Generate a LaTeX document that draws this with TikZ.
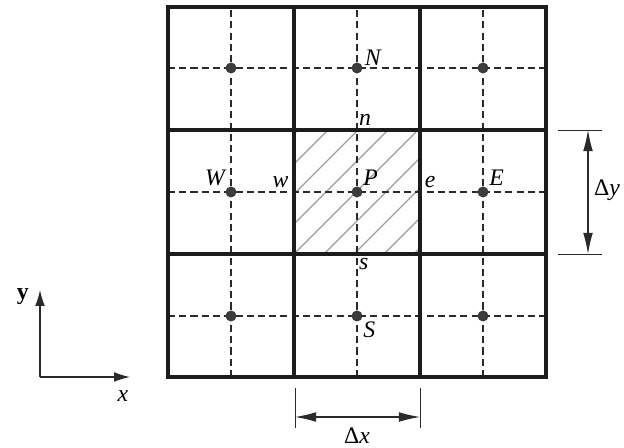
\documentclass[tikz,border=0pt]{standalone}
\usepackage{fontspec}
\setmainfont{Liberation Serif}[ItalicFont={Liberation Serif Italic}, BoldFont={Liberation Serif Bold}]
\usetikzlibrary{arrows.meta,positioning}
\definecolor{wallblack}{HTML}{1C1C1C}
\definecolor{dashgray}{HTML}{2A2A2A}
\definecolor{hatchgray}{HTML}{9C9C9C}
\definecolor{dotgray}{HTML}{3C3C3C}
\newcommand{\labelfont}{\fontsize{13.5}{16}\selectfont}
\tikzset{
  cellwall/.style={draw=wallblack, line width=1.8pt, line cap=rect},
  gridline/.style={draw=dashgray, line width=0.65pt, dash pattern=on 4pt off 2.4pt},
  hatch/.style={draw=hatchgray, line width=0.7pt},
  nodept/.style={circle, fill=dotgray, inner sep=0pt, minimum size=2.2mm},
  ptlabel/.style={inner sep=1pt, font=\labelfont\itshape},
  dimline/.style={draw=dashgray, line width=0.5pt},
  dimarrow/.style={{Latex[length=12pt,width=5.5pt]}-{Latex[length=12pt,width=5.5pt]}, draw=dashgray, line width=0.6pt},
  axisarrow/.style={-{Latex[length=9pt,width=5.5pt]}, draw=dashgray, line width=0.7pt}
}

\begin{document}
\begin{tikzpicture}[x=0.02cm, y=0.02cm, font=\labelfont]
  \useasboundingbox (0,0) rectangle (624,448);

  % hatched cell around P
  \begin{scope}
    \clip (294,194) rectangle (420,318);
    \foreach \d in {-120,-90,...,120}
      \draw[hatch] (294+\d,194) -- ++(126,126);
  \end{scope}

  % dashed lines through the grid points
  \foreach \x in {231,357,483}
    \draw[gridline] (\x,71) -- (\x,441);
  \foreach \y in {132,256,380}
    \draw[gridline] (168,\y) -- (546,\y);

  % cell walls
  \foreach \x in {168,294,420,546}
    \draw[cellwall] (\x,71) -- (\x,441);
  \foreach \y in {71,194,318,441}
    \draw[cellwall] (168,\y) -- (546,\y);

  % grid points
  \node[nodept] (NW) at (231,380) {};
  \node[nodept] (N) at (357,380) {};
  \node[nodept] (NE) at (483,380) {};
  \node[nodept] (W) at (231,256) {};
  \node[nodept] (P) at (357,256) {};
  \node[nodept] (E) at (483,256) {};
  \node[nodept] (SW) at (231,132) {};
  \node[nodept] (S) at (357,132) {};
  \node[nodept] (SE) at (483,132) {};

  % faces of the P cell
  \coordinate (fn) at (357,318);
  \coordinate (fs) at (357,194);
  \coordinate (fw) at (294,256);
  \coordinate (fe) at (420,256);

  \node[ptlabel, anchor=south west] (Nlab) at (N.east) {N};
  \node[ptlabel, anchor=south west] (Plab) at (P.north east) {P};
  \node[ptlabel, anchor=south east] (Wlab) at (W.north west) {W};
  \node[ptlabel, anchor=south west] (Elab) at (E.north east) {E};
  \node[ptlabel, anchor=north west] (Slab) at (S.south east) {S};
  \node[ptlabel, anchor=south west, yshift=1.5pt] (nlab) at (fn) {n};
  \node[ptlabel, anchor=north west, yshift=-1.5pt] (slab) at (fs) {s};
  \node[ptlabel, anchor=south east, xshift=-2pt, yshift=1pt] (wlab) at (fw) {w};
  \node[ptlabel, anchor=south west, xshift=1.5pt, yshift=1pt] (elab) at (fe) {e};

  % cell height
  \coordinate (dyT) at (588,318);
  \coordinate (dyB) at (588,194);
  \draw[dimline] (558,318) -- (602,318);
  \draw[dimline] (558,194) -- (602,194);
  \draw[dimarrow] (dyT) -- (dyB);
  \node[inner sep=1pt, anchor=west] (dylab) at (592,258) {Δ\textit{y}};

  % cell width
  \coordinate (dxL) at (295,31);
  \coordinate (dxR) at (420,31);
  \draw[dimline] (295,60) -- (295,20);
  \draw[dimline] (420,60) -- (420,20);
  \draw[dimarrow] (dxL) -- (dxR);
  \node[inner sep=0pt, anchor=base] (dxlab) at (357,4) {Δ\textit{x}};

  % axes
  \coordinate (origin) at (40,71);
  \coordinate (ytip) at (40,158);
  \coordinate (xtip) at (130,71);
  \draw[axisarrow] (origin) -- (ytip);
  \draw[axisarrow] (origin) -- (xtip);
  \node[inner sep=0pt, anchor=base east, font=\labelfont\bfseries] (ylab) at (29,148) {y};
  \node[ptlabel, inner sep=0pt, anchor=base] (xlab) at (123,46) {x};
\end{tikzpicture}
\end{document}
